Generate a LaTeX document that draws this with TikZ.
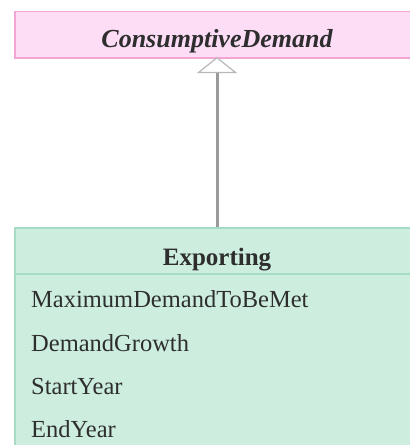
\documentclass[tikz,border=0pt]{standalone}
\usepackage{fontspec}
\setmainfont{Liberation Serif}
\usetikzlibrary{arrows.meta}
\definecolor{pinkfill}{HTML}{FDDCF6}
\definecolor{pinkline}{HTML}{F2A6D6}
\definecolor{greenfill}{HTML}{CDEEDF}
\definecolor{greenline}{HTML}{A6DCC4}
\definecolor{txt}{HTML}{2E2E2E}
\definecolor{conn}{HTML}{9A9A9A}
\definecolor{tipline}{HTML}{B8B8B8}
\tikzset{
  classbox/.style={draw, line width=1.5pt, rectangle, anchor=north west, inner sep=0pt},
  lbl/.style={anchor=base, inner sep=0pt, text=txt, font=\fontsize{25}{28}\selectfont},
  attr/.style={anchor=base west, inner sep=0pt, text=txt, font=\fontsize{24.5}{28}\selectfont},
  generalization/.style={draw=conn, line width=3pt,
    -{Triangle[open, length=16pt, width=40pt, line width=1.2pt, color=tipline, fill=white]}}
}
\begin{document}
\begin{tikzpicture}[x=1pt,y=-1pt]
\useasboundingbox (0,0) rectangle (410,445);
\clip (0,0) rectangle (410,445);
\fill[white] (0,0) rectangle (410,445);
% parent class
\node[classbox, draw=pinkline, fill=pinkfill, minimum width=406pt, minimum height=46.5pt] (parent) at (14,10.5) {};
\node[lbl, font=\fontsize{26}{28}\selectfont\bfseries\itshape] (ptitle) at (217,47) {ConsumptiveDemand};
% child class
\node[classbox, draw=greenline, fill=greenfill, minimum width=406pt, minimum height=240pt] (child) at (14,227) {};
\coordinate (sepL) at (14,274);
\coordinate (sepR) at (420,274);
\draw[greenline, line width=1.5pt] (sepL) -- (sepR);
\node[lbl, font=\fontsize{25}{28}\selectfont\bfseries] (ctitle) at (217,265) {Exporting};
\node[attr] (a1) at (31,307) {MaximumDemandToBeMet};
\node[attr] (a2) at (31,351) {DemandGrowth};
\node[attr] (a3) at (31,394) {StartYear};
\node[attr] (a4) at (31,437) {EndYear};
% generalization
\coordinate (cs) at (217,227);
\coordinate (pe) at (217,57);
\draw[generalization] (cs) -- (pe);
\end{tikzpicture}
\end{document}
